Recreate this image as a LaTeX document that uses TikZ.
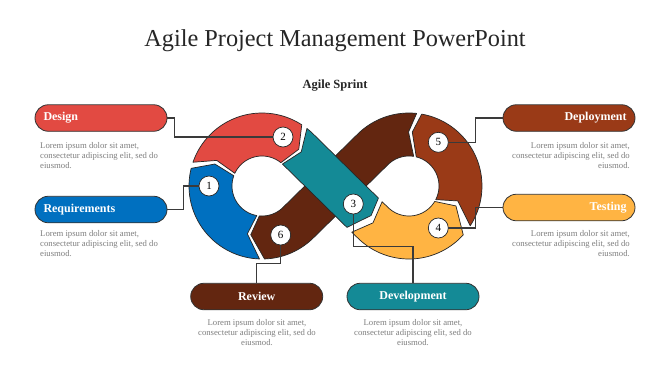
\documentclass[tikz,border=0pt]{standalone}
\usepackage{fontspec}
\setmainfont{Liberation Serif}
\usetikzlibrary{calc}
\definecolor{cRed}{HTML}{E24A42}
\definecolor{cBlue}{HTML}{0070C0}
\definecolor{cTeal}{HTML}{148A96}
\definecolor{cYel}{HTML}{FFB443}
\definecolor{cOra}{HTML}{9A3A17}
\definecolor{cBro}{HTML}{632610}
\definecolor{cTxt}{HTML}{7F7F7F}
\definecolor{cLine}{HTML}{3A3A3A}
\definecolor{cTitle}{HTML}{262626}
\begin{document}
\begin{tikzpicture}[x=1pt,y=-1pt,
  seg/.style={draw=black!85,line width=0.7pt,line join=round},
  pill/.style={draw=black!80,line width=0.8pt,rounded corners=13.25pt,minimum width=132pt,minimum height=26.5pt,inner xsep=8.5pt,inner ysep=0pt,text width=115pt,font=\fontsize{12}{14}\selectfont\bfseries,text=white},
  body/.style={font=\fontsize{8.7}{10}\selectfont,text=cTxt,inner sep=0pt},
  num/.style={circle,draw=black!85,line width=0.7pt,fill=white,minimum size=20pt,inner sep=0pt,font=\fontsize{11}{11}\selectfont},
  conn/.style={draw=cLine,line width=1.1pt}]
\useasboundingbox[fill=white] (0,0) rectangle (670,376);
\coordinate (CL) at (262,186);
\coordinate (CR) at (409,186);
\coordinate (T1) at ($(CL)+(-45.5:51.5)$);

% title
\node[anchor=base,font=\fontsize{24.3}{26}\selectfont,text=cTitle,inner sep=0pt] (title) at (335,46.5) {Agile Project Management PowerPoint};
\node[anchor=base,font=\fontsize{12.5}{14}\selectfont\bfseries,text=cTitle,inner sep=0pt] (sub) at (335,88) {Agile Sprint};

% brown (6)
\draw[seg,fill=cBro] ($(CR)+(-84:73)$)
  -- plot[domain=-84:-134.5,samples=30] ({409+73*cos(\x)},{186+73*sin(\x)})
  -- ($(CL)+(45.5:30)$)
  -- plot[domain=45.5:95,samples=20] ({262+30*cos(\x)},{186+30*sin(\x)})
  -- ($(CL)+(103:50)$) -- ($(CL)+(88:73)$)
  -- plot[domain=88:45.5,samples=20] ({262+73*cos(\x)},{186+73*sin(\x)})
  -- ($(CR)+(-134.5:30)$)
  -- plot[domain=-134.5:-81,samples=20] ({409+30*cos(\x)},{186+30*sin(\x)})
  -- ($(CR)+(-90.5:54)$) -- cycle;
% blue (1)
\draw[seg,fill=cBlue] ($(CL)+(92:73)$)
  -- plot[domain=92:194,samples=40] ({262+73*cos(\x)},{186+73*sin(\x)})
  -- ($(CL)+(205:52)$) -- ($(CL)+(200:30)$)
  -- plot[domain=200:100,samples=30] ({262+30*cos(\x)},{186+30*sin(\x)})
  -- ($(CL)+(107:50)$) -- cycle;
% red (2)
\draw[seg,fill=cRed] ($(CL)+(199:73)$)
  -- plot[domain=199:303,samples=40] ({262+73*cos(\x)},{186+73*sin(\x)})
  -- ($(CL)+(315:52)$) -- ($(CL)+(309:30)$)
  -- plot[domain=309:205,samples=30] ({262+30*cos(\x)},{186+30*sin(\x)})
  -- ($(CL)+(209.5:52)$) -- cycle;
% yellow (4)
\draw[seg,fill=cYel] ($(T1)+(44.5:96.4)+(-45.5:-21.5)$)
  -- ($(CR)+(134.5:73)$)
  -- plot[domain=134.5:42,samples=40] ({409+73*cos(\x)},{186+73*sin(\x)})
  -- ($(CR)+(23:51)$) -- ($(CR)+(31:30)$)
  -- plot[domain=31:134.5,samples=30] ({409+30*cos(\x)},{186+30*sin(\x)})
  -- ($(T1)+(44.5:96.7)+(-45.5:21.5)$)
  -- ($(T1)+(44.5:105)$) -- cycle;
% orange (5)
\draw[seg,fill=cOra] ($(CR)+(33:73)$)
  -- plot[domain=33:-80,samples=40] ({409+73*cos(\x)},{186+73*sin(\x)})
  -- ($(CR)+(-86.5:54)$) -- ($(CR)+(-76:30)$)
  -- plot[domain=-76:27,samples=30] ({409+30*cos(\x)},{186+30*sin(\x)})
  -- ($(CR)+(17:51)$) -- cycle;
% teal (3)
\draw[seg,fill=cTeal] ($(CL)+(308:73)$) -- ($(CL)+(311:73)$) -- ($(CL)+(314.5:73)$)
  -- ($(T1)+(44.5:91.5)+(-45.5:21.5)$)
  -- ($(T1)+(44.5:98.5)+(-45.5:4)$)
  -- ($(T1)+(44.5:89.6)+(-45.5:-21.5)$)
  -- ($(CL)+(314.5:30)$) -- ($(CL)+(313:30)$)
  -- ($(CL)+(319:52)$) -- cycle;

% pills
\node[pill,fill=cRed,align=left] (design) at (101,118) {Design};
\node[pill,fill=cBlue,align=left] (req) at (101,209.5) {Requirements};
\node[pill,fill=cOra,align=right] (dep) at (569,118) {Deployment};
\node[pill,fill=cYel,align=right] (test) at (569,207.5) {Testing};
\node[pill,fill=cBro,align=center] (review) at (256.7,296.5) {Review};
\node[pill,fill=cTeal,align=center] (dev) at (413,296.5) {Development};

% number circles (placed first as coordinates for connectors)
\coordinate (p1) at (209,186);
\coordinate (p2) at (283,137);
\coordinate (p3) at (353.3,204);
\coordinate (p4) at (438.3,228);
\coordinate (p5) at (438.3,142.3);
\coordinate (p6) at (280.7,235);

% connectors
\draw[conn] (design.east) -- ++(7.5,0) |- (p2);
\draw[conn] (req.east) -- ++(16.5,0) |- (p1);
\draw[conn] (dep.west) -- ++(-27.5,0) |- (p5);
\draw[conn] (test.west) -- ++(-27,0) |- (p4);
\draw[conn] (p6) -- ($(p6)+(0,28.3)$) -| (review.north);
\draw[conn] (p3) -- ($(p3)+(0,42.7)$) -| (dev.north);

\node[num] (n1) at (p1) {1};
\node[num] (n2) at (p2) {2};
\node[num] (n3) at (p3) {3};
\node[num] (n4) at (p4) {4};
\node[num] (n5) at (p5) {5};
\node[num] (n6) at (p6) {6};

% body texts
\node[body,align=left,anchor=north west] (tdesign) at (40,142) {Lorem ipsum dolor sit amet,\\consectetur adipiscing elit, sed do\\eiusmod.};
\node[body,align=left,anchor=north west] (treq) at (40,230) {Lorem ipsum dolor sit amet,\\consectetur adipiscing elit, sed do\\eiusmod.};
\node[body,align=right,anchor=north east] (tdep) at (630,142) {Lorem ipsum dolor sit amet,\\consectetur adipiscing elit, sed do\\eiusmod.};
\node[body,align=right,anchor=north east] (ttest) at (630,230) {Lorem ipsum dolor sit amet,\\consectetur adipiscing elit, sed do\\eiusmod.};
\node[body,align=center,anchor=north] (treview) at (257,319) {Lorem ipsum dolor sit amet,\\consectetur adipiscing elit, sed do\\eiusmod.};
\node[body,align=center,anchor=north] (tdev) at (413,319) {Lorem ipsum dolor sit amet,\\consectetur adipiscing elit, sed do\\eiusmod.};
\end{tikzpicture}
\end{document}
